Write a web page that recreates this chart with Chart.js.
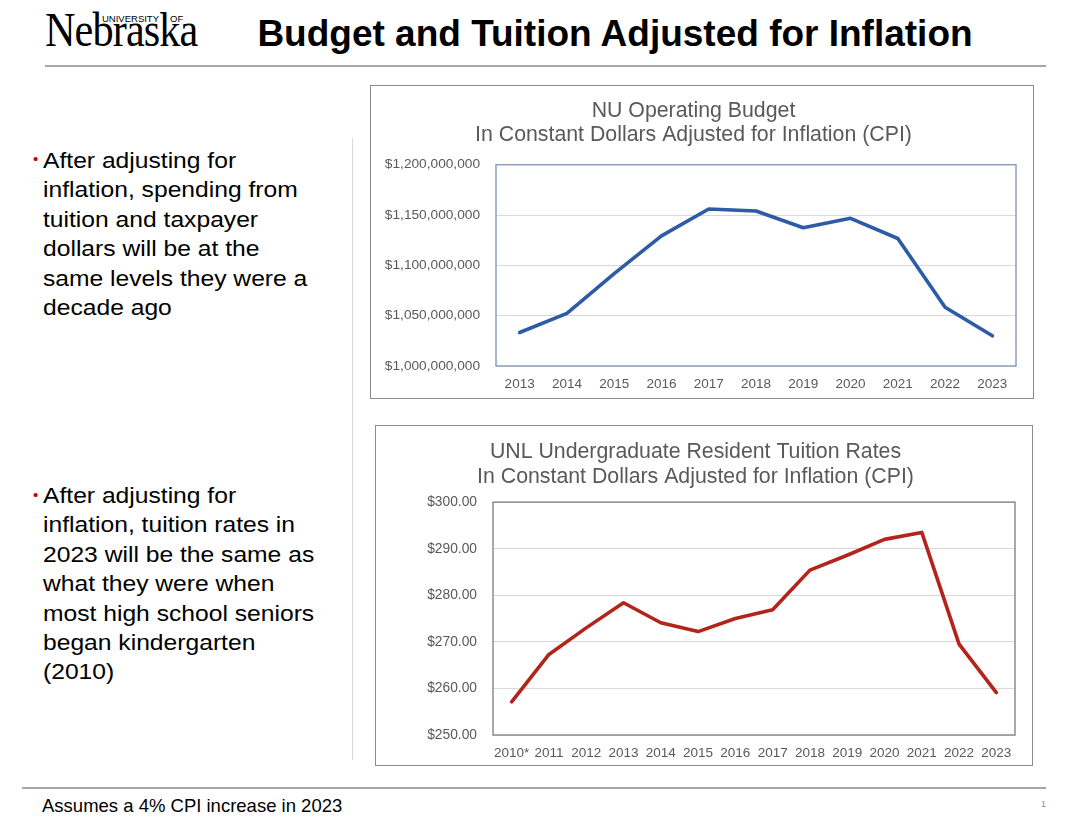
<!DOCTYPE html>
<html>
<head>
<meta charset="utf-8">
<script src="https://cdn.jsdelivr.net/npm/chart.js@4"></script>
<style>
  body { margin: 0; background: #fff; }
  #page { position: relative; width: 1090px; height: 823px; overflow: hidden; font-family: "Liberation Sans", Arial, sans-serif; color: #000; }
  .abs { position: absolute; }
  #logo { left: 45px; top: 6px; font-family: "Liberation Serif", "Times New Roman", serif; font-size: 48px; line-height: 48px; letter-spacing: -1px; transform: scaleX(0.88); transform-origin: left top; }
  .logo-small { font-size: 9.5px; line-height: 10px; letter-spacing: 0; }
  #title { left: 215px; width: 800px; top: 15px; text-align: center; font-size: 37px; line-height: 37px; font-weight: bold; }
  .rule { background: #a6a6a6; height: 2px; }
  #vrule { left: 352px; top: 138px; width: 1px; height: 622px; background: #d9d9d9; }
  .bullet { left: 43px; font-size: 22px; line-height: 29.4px; transform: scaleX(1.12); transform-origin: left top; white-space: nowrap; }
  .dot { left: 33px; color: #c00000; font-size: 15px; line-height: 15px; }
  .box { border: 1px solid #8c8c8c; background: #fff; }
  #footnote { left: 42px; top: 797px; font-size: 18.5px; line-height: 18.5px; }
  #pagenum { left: 1041px; top: 799px; font-size: 9px; color: #8c8c8c; }
</style>
</head>
<body>
<div id="page">
  <div id="logo" class="abs">Nebraska</div>
  <div class="abs logo-small" style="left:102px; top:14px;">UNIVERSITY</div>
  <div class="abs logo-small" style="left:170px; top:14px;">OF</div>
  <div id="title" class="abs">Budget and Tuition Adjusted for Inflation</div>
  <div class="abs rule" style="left:45px; top:65px; width:1001px;"></div>
  <div id="vrule" class="abs"></div>

  <div class="abs dot" style="top:151px;">&#8226;</div>
  <div class="abs bullet" style="top:146px;">After adjusting for<br>inflation, spending from<br>tuition and taxpayer<br>dollars will be at the<br>same levels they were a<br>decade ago</div>

  <div class="abs dot" style="top:487px;">&#8226;</div>
  <div class="abs bullet" style="top:481px;">After adjusting for<br>inflation, tuition rates in<br>2023 will be the same as<br>what they were when<br>most high school seniors<br>began kindergarten<br>(2010)</div>

  <div class="abs box" style="left:370px; top:85px; width:662px; height:312px;">
    <canvas id="budgetChart"></canvas>
  </div>
  <div class="abs box" style="left:375px; top:425px; width:656px; height:339px;">
    <canvas id="tuitionChart"></canvas>
  </div>

  <div class="abs rule" style="left:22px; top:787px; width:1024px;"></div>
  <div id="footnote" class="abs">Assumes a 4% CPI increase in 2023</div>
  <div id="pagenum" class="abs">1</div>
</div>

<script>
// dados
const budgetYears = ['2013', '2014', '2015', '2016', '2017', '2018', '2019', '2020', '2021', '2022', '2023'];
const budgetValues = [1033300000, 1052300000, 1091700000, 1129300000, 1156000000, 1154000000, 1137300000, 1146700000, 1126700000, 1058300000, 1030000000];
const budgetTitle = ['NU Operating Budget', 'In Constant Dollars Adjusted for Inflation (CPI)'];
const budgetMin = 1000000000;
const budgetMax = 1200000000;
const budgetStep = 50000000;

const tuitionYears = ['2010*', '2011', '2012', '2013', '2014', '2015', '2016', '2017', '2018', '2019', '2020', '2021', '2022', '2023'];
const tuitionValues = [257.1, 267.3, 273.0, 278.4, 274.1, 272.2, 275.0, 276.9, 285.4, 288.6, 292.0, 293.5, 269.5, 259.1];
const tuitionTitle = ['UNL Undergraduate Resident Tuition Rates', 'In Constant Dollars Adjusted for Inflation (CPI)'];
const tuitionMin = 250;
const tuitionMax = 300;
const tuitionStep = 10;

const fontFamily = '"Liberation Sans", Arial, sans-serif';
const textGray = '#595959';

// moldura da área do gráfico (estilo Excel)
const plotBorder = {
  id: 'plotBorder',
  beforeDatasetsDraw(chart, args, opts) {
    const a = chart.chartArea;
    const ctx = chart.ctx;
    ctx.save();
    ctx.strokeStyle = opts.color;
    ctx.lineWidth = opts.width;
    ctx.strokeRect(a.left, a.top, a.right - a.left, a.bottom - a.top);
    ctx.restore();
  }
};

function lineChart(canvasId, labels, values, opts) {
  const config = {
    type: 'line',
    data: {
      labels: labels,
      datasets: [{
        data: values,
        borderColor: opts.color,
        borderWidth: 3.6,
        tension: 0,
        pointRadius: 0,
        borderJoinStyle: 'round',
        borderCapStyle: 'round',
        fill: false
      }]
    },
    options: {
      responsive: true,
      maintainAspectRatio: false,
      animation: false,
      layout: { padding: { left: 0, right: opts.rightPad, top: 0, bottom: 0 } },
      plugins: {
        legend: { display: false },
        tooltip: { enabled: false },
        title: {
          display: true,
          text: opts.title,
          color: textGray,
          font: { family: fontFamily, size: 21.3, weight: 'normal', lineHeight: opts.titleLh },
          padding: { top: opts.titleTop, bottom: opts.titleBottom }
        },
        plotBorder: { color: opts.frame, width: 1.5 }
      },
      scales: {
        x: {
          offset: true,
          grid: { display: false, drawTicks: false },
          border: { display: false },
          ticks: { color: textGray, font: { family: fontFamily, size: 13.5 }, padding: 10, maxRotation: 0, autoSkip: false },
          afterFit: function(scale) { scale.height = opts.xHeight; }
        },
        y: {
          min: opts.min,
          max: opts.max,
          grid: { color: '#d9d9d9', lineWidth: 1, drawTicks: false },
          border: { display: false },
          ticks: {
            stepSize: opts.step,
            color: textGray,
            font: { family: fontFamily, size: opts.ySize },
            padding: 16,
            callback: opts.fmt
          },
          afterFit: function(scale) { scale.width = opts.yWidth; }
        }
      }
    },
    plugins: [plotBorder]
  };
  return new Chart(document.getElementById(canvasId), config);
}

lineChart('budgetChart', budgetYears, budgetValues, {
  title: budgetTitle,
  color: '#2e5ba6',
  frame: '#8d9fbf',
  min: budgetMin, max: budgetMax, step: budgetStep,
  ySize: 13.7,
  yWidth: 125,
  xHeight: 32,
  rightPad: 17,
  titleLh: 1.12,
  titleTop: 13,
  titleBottom: 18,
  fmt: function(v) { return '$' + Number(v).toLocaleString('en-US'); }
});

lineChart('tuitionChart', tuitionYears, tuitionValues, {
  title: tuitionTitle,
  color: '#b3241a',
  frame: '#8c8c8c',
  min: tuitionMin, max: tuitionMax, step: tuitionStep,
  ySize: 13.8,
  yWidth: 117,
  xHeight: 30,
  rightPad: 17,
  titleLh: 1.2,
  titleTop: 13,
  titleBottom: 12,
  fmt: function(v) { return '$' + Number(v).toFixed(2); }
});
</script>
</body>
</html>
